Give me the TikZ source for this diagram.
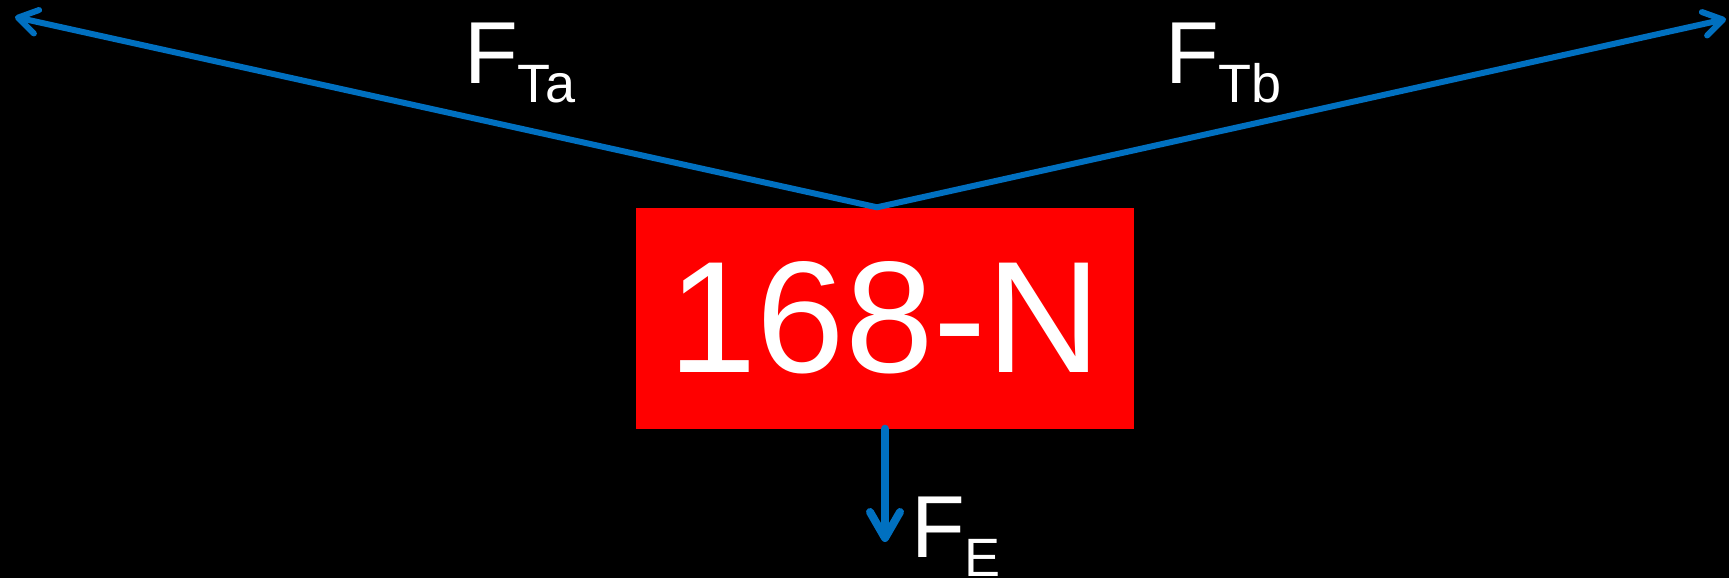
\documentclass[tikz,border=0pt]{standalone}
\usepackage{fontspec}
\setmainfont{Liberation Sans}
\usetikzlibrary{arrows.meta}
\definecolor{forceBlue}{RGB}{0,112,192}
\begin{document}
\begin{tikzpicture}[x=1pt, y=-1pt]
% Free body diagram of the hanging load
\providecommand{\fbdLineWidth}{6pt}
\providecommand{\fbdBoxColor}{red}
\tikzset{
  force/.style={draw=forceBlue, line width=\fbdLineWidth, line cap=round},
  smalltip/.style={-{Straight Barb[length=19pt, width=24pt, round]}},
  bigtip/.style={line width=8pt, -{Straight Barb[length=26pt, width=30pt, round]}},
  loadbox/.style={fill=\fbdBoxColor, text=white, inner sep=0pt,
    minimum width=498pt, minimum height=221pt,
    font=\fontsize{159}{159}\selectfont},
  flabel/.style={text=white, inner sep=0pt, anchor=base west,
    font=\fontsize{88}{88}\selectfont}
}
\newcommand{\fbdsub}[1]{\raisebox{-19pt}{\fontsize{54}{54}\selectfont #1}}
% Background
\fill[black] (0,0) rectangle (1729,578);
% Load
\node[loadbox] (load) at (885,318) {\raisebox{-2pt}{168-N}};
% Force vectors
\coordinate (apex) at ([xshift=-8pt]load.north);
\coordinate (tipTa) at (15,17);
\coordinate (tipTb) at (1726,19);
\coordinate (tipE) at (885,542);
\draw[force, smalltip] (apex) -- (tipTa);
\draw[force, smalltip] (apex) -- (tipTb);
\draw[force, bigtip] (load.south) -- (tipE);
% Labels
\node[flabel] (labelTa) at (464,83) {F\fbdsub{Ta}};
\node[flabel] (labelTb) at (1165,83) {F\fbdsub{Tb}};
\node[flabel] (labelE) at (911,557) {F\fbdsub{E}};
\end{tikzpicture}
\end{document}
